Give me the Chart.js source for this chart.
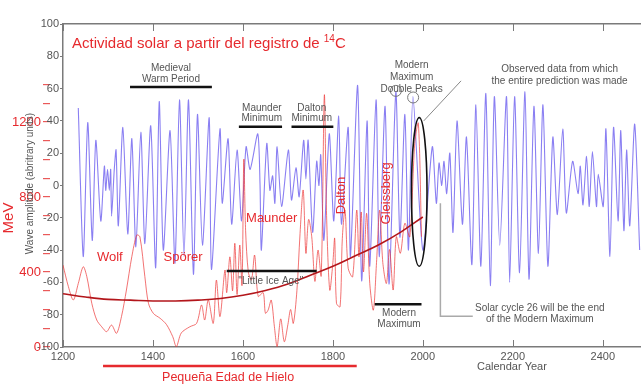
<!DOCTYPE html>
<html>
<head>
<meta charset="utf-8">
<script src="https://cdn.jsdelivr.net/npm/chart.js@4.4.1/dist/chart.umd.min.js"></script>
<style>
  html, body { margin: 0; padding: 0; background: #fff; }
  #wrap { width: 641px; height: 388px; }
</style>
</head>
<body>
<div id="wrap"><canvas id="chart" width="641" height="388"></canvas></div>
<script>
const FONT = '"Liberation Sans", Arial, Helvetica, sans-serif';
const AXIS = '#7a7a7a';
const GRAY = '#555';
const RED = '#e62a2e';

// calendar years on the x axis
const yearMin = 1200;
const yearMax = 2485;
const yearStep = 200;

// wave amplitude (arbitrary units), blue curve
const waveYears = [1234,1245,1255,1265,1273,1284,1292,1295,1299,1303,1306,1308,1314,1318,1323,1333,1344,1353,1362,1373,
  1382,1395,1406,1414,1423,1438,1449,1459,1469,1479,1490,1499,1510,1525,1530,1549,1554,1567,1575,1587,
  1597,1607,1616,1633,1638,1641,1653,1660,1666,1671,1676,1686,1701,1708,1718,1725,1735,1740,1745,1755,
  1764,1769,1773,1780,1792,1802,1813,1819,1834,1839,1855,1864,1876,1882,1896,1903,1916,1925,1940,1949,
  1960,1968,1978,2000,2021,2030,2036,2042,2047,2053,2060,2067,2076,2088,2097,2109,2118,2129,2140,2150,
  2159,2171,2186,2193,2204,2215,2227,2236,2247,2257,2267,2278,2289,2299,2311,2319,2333,2345,2350,2356,
  2364,2370,2377,2386,2390,2401,2407,2416,2424,2434,2440,2447,2453,2460,2471,2482];
const waveValues = [48,-44,39,-34,28,-22,12,-3,10,-3,10,-19,10,22,-25,36,-30,29,-38,33,
  -36,37,-51,52,-40,34,-48,53,-44,53,-55,44,-37,42,-52,35,-11,29,-24,22,
  -22,24,10,32,1,-40,26,-3,6,-11,24,-13,22,-9,11,-7,28,4,28,-29,
  15,0,19,-34,32,-22,43,-24,36,-44,62,-59,40,-50,53,-44,49,-61,58,-32,
  44,-40,55,-40,24,-11,14,0,15,-5,20,-29,40,-24,30,-49,50,-50,57,-62,
  55,-37,55,-60,55,-54,58,-58,49,-42,50,-50,30,-18,35,-17,15,-5,12,-12,
  18,-13,21,-13,7,-13,35,-44,36,-22,34,-28,22,-25,38,-40];

// solar activity from 14C (MeV), light red curve
const mevYears = [1200,1212,1223,1234,1245,1253,1264,1275,1286,1297,1308,1319,1330,1341,1353,1364,1371,1382,1390,1401,
  1416,1430,1444,1452,1463,1482,1497,1508,1515,1523,1534,1541,1549,1560,1564,1571,1577,1582,1587,1593,
  1598,1602,1606,1612,1619,1626,1634,1645,1650,1656,1663,1670,1676,1684,1692,1700,1706,1712,1720,1727,
  1734,1740,1746,1753,1760,1767,1774,1781,1786,1793,1800,1804,1808,1816,1821,1827,1834,1844,1853,1858,
  1863,1868,1875,1882,1890,1897,1904,1911,1919,1926,1934,1941,1950,1960,1971,1982,1990,1997];
const mevValues = [437,322,251,339,428,375,233,144,108,82,117,73,162,304,482,597,588,375,233,179,
  153,120,55,2,75,108,126,224,144,251,126,357,162,410,290,481,300,553,280,544,
  330,1000,620,400,357,490,270,290,180,197,250,108,2,150,28,120,200,126,300,606,
  837,500,680,588,350,517,380,1344,700,304,450,580,233,215,580,730,420,375,730,480,
  720,400,713,339,197,450,730,450,339,520,304,588,500,660,588,1086,1193,588];

// long-term trend, dark red curve (wave amplitude units)
const trendYears = [1200,1250,1300,1350,1400,1450,1500,1550,1600,1650,1700,1750,1800,1850,1900,1950,2000];
const trendValues = [-67,-69,-70.5,-71,-71.5,-71.5,-71,-70,-68,-65,-61,-55.5,-50,-43.5,-37,-29,-19.5];

// the red MeV axis: labelled values and last tick mark
const mevTickLabels = [0, 400, 800, 1200];
const mevTickTop = 1400;

// annotations placed in data coordinates: [text, year, value]
const grayNotes = [
  ['Medieval', 1440, 72.8], ['Warm Period', 1440, 66],
  ['Maunder', 1642, 48.1], ['Minimum', 1642, 41.4],
  ['Dalton', 1753, 48.1], ['Minimum', 1753, 41.4],
  ['"Little Ice Age"', 1662, -59.3],
  ['Modern', 1947, -79], ['Maximum', 1947, -85.8],
  ['Modern', 1975, 74.7], ['Maximum', 1975, 67.3], ['Double Peaks', 1975, 59.9],
  ['Observed data from which', 2304, 72.2], ['the entire prediction was made', 2304, 64.8],
  ['Solar cycle 26 will be the end', 2260, -75.9], ['of the Modern Maximum', 2260, -82.7]
];
const periodBars = [[1349, 1531, 61], [1591, 1687, 36.4], [1708, 1801, 36.4], [1564, 1764, -53], [1893, 1997, -73.5]];
const redNotes = [['Wolf', 1304, -44.4, 0], ['Spörer', 1467, -44.4, 0], ['Maunder', 1664, -20.4, 0],
  ['Dalton', 1820, -6.2, -90], ['Gleissberg', 1920, -4.9, -90]];

const overlay = {
  id: 'overlay',
  afterDatasetsDraw(chart) {
    const { ctx, chartArea: a, scales: { x, y, y2 } } = chart;
    const px = v => x.getPixelForValue(v);
    const py = v => y.getPixelForValue(v);
    const line = (x1, y1, x2, y2_) => { ctx.beginPath(); ctx.moveTo(x1, y1); ctx.lineTo(x2, y2_); ctx.stroke(); };
    const text = (s, tx, ty, font, color, rot) => {
      ctx.save();
      ctx.translate(tx, ty);
      if (rot) ctx.rotate(rot * Math.PI / 180);
      ctx.font = font; ctx.fillStyle = color;
      ctx.textAlign = 'center'; ctx.textBaseline = 'middle';
      ctx.fillText(s, 0, 0);
      ctx.restore();
    };
    ctx.save();

    // inward ticks on the bottom and top frame
    ctx.strokeStyle = AXIS; ctx.lineWidth = 1;
    x.ticks.forEach(t => {
      const xx = Math.round(px(t.value)) + 0.5;
      line(xx, a.bottom, xx, a.bottom - 7);
      line(xx, a.top, xx, a.top + 7);
    });

    // period bars
    ctx.strokeStyle = '#111'; ctx.lineWidth = 2.5;
    periodBars.forEach(b => line(px(b[0]), py(b[2]), px(b[1]), py(b[2])));

    // ellipse round the observed data, circles on double peaks
    ctx.strokeStyle = '#111'; ctx.lineWidth = 1.6;
    ctx.beginPath();
    ctx.ellipse(px(1992), py(-4), px(2009.3) - px(1992), py(-50) - py(-4), 0, 0, Math.PI * 2);
    ctx.stroke();
    ctx.strokeStyle = '#777'; ctx.lineWidth = 1;
    [[1940, 58.6], [1978.4, 54.5]].forEach(c => {
      ctx.beginPath(); ctx.arc(px(c[0]), py(c[1]), 5.5, 0, Math.PI * 2); ctx.stroke();
    });

    // leader lines
    ctx.strokeStyle = '#888'; ctx.lineWidth = 1;
    line(px(2002), py(40), px(2085), py(64.8));
    ctx.strokeStyle = '#aaa'; ctx.lineWidth = 1.5;
    ctx.beginPath(); ctx.moveTo(px(2039), py(-11)); ctx.lineTo(px(2039), py(-81)); ctx.lineTo(px(2111), py(-81)); ctx.stroke();

    grayNotes.forEach(n => text(n[0], px(n[1]), py(n[2]), '10px ' + FONT, GRAY, 0));
    redNotes.forEach(n => text(n[0], px(n[1]), py(n[2]), '13px ' + FONT, RED, n[3]));

    // title with superscript
    ctx.fillStyle = RED; ctx.textAlign = 'left'; ctx.textBaseline = 'middle';
    const t0 = 'Actividad solar a partir del registro de ';
    let tx = px(1220); const ty = py(87.7);
    ctx.font = '15px ' + FONT; ctx.fillText(t0, tx, ty); tx += ctx.measureText(t0).width;
    ctx.font = '10px ' + FONT; ctx.fillText('14', tx, ty - 5); tx += ctx.measureText('14').width;
    ctx.font = '15px ' + FONT; ctx.fillText('C', tx, ty);

    // axis titles
    text('Wave amplitude (abritrary units)', 30, py(1.2), '10px ' + FONT, GRAY, -90);
    text('MeV', 9, y2.getPixelForValue(688), '15px ' + FONT, RED, -90);
    text('Calendar Year', px(2198), py(-112.3), '11px ' + FONT, GRAY, 0);

    // Little Ice Age span under the axis
    ctx.strokeStyle = RED; ctx.lineWidth = 2.5;
    line(px(1289), py(-111.7), px(1853), py(-111.7));
    text('Pequeña Edad de Hielo', px(1567), py(-119), '12.5px ' + FONT, RED, 0);

    ctx.restore();
  }
};

const pairs = (xs, ys) => xs.map((v, i) => ({ x: v, y: ys[i] }));

new Chart(document.getElementById('chart'), {
  type: 'line',
  data: {
    datasets: [
      {
        label: 'trend', data: pairs(trendYears, trendValues), yAxisID: 'y',
        borderColor: '#b3161b', borderWidth: 1.6, pointRadius: 0, tension: 0.4, order: 1
      },
      {
        label: 'MeV', data: pairs(mevYears, mevValues), yAxisID: 'y2',
        borderColor: 'rgba(236,55,55,0.7)', borderWidth: 1, pointRadius: 0, tension: 0.3, order: 2
      },
      {
        label: 'wave', data: pairs(waveYears, waveValues), yAxisID: 'y',
        borderColor: 'rgba(118,104,240,0.85)', borderWidth: 1.1, pointRadius: 0, tension: 0.25, order: 3
      }
    ]
  },
  options: {
    responsive: false,
    animation: false,
    devicePixelRatio: 1,
    layout: { padding: 0 },
    plugins: { legend: { display: false }, tooltip: { enabled: false } },
    scales: {
      x: {
        type: 'linear', position: 'bottom', min: yearMin, max: yearMax,
        grid: { display: false, drawTicks: false },
        border: { display: true, color: AXIS, width: 1.5 },
        ticks: { stepSize: yearStep, includeBounds: false, autoSkip: false, maxRotation: 0, padding: 3,
          color: GRAY, font: { family: FONT, size: 11 }, callback: v => String(v) },
        afterFit: s => { s.height = 41; }
      },
      x2: {
        type: 'linear', position: 'top', min: yearMin, max: yearMax,
        grid: { display: false, drawTicks: false },
        border: { display: true, color: AXIS, width: 1.5 },
        ticks: { display: false },
        afterFit: s => { s.height = 24; }
      },
      y: {
        position: 'left', min: -100, max: 100, weight: 0,
        grid: { drawOnChartArea: false, tickLength: 3, color: AXIS },
        border: { display: true, color: AXIS, width: 1.5 },
        ticks: { stepSize: 20, padding: 1, color: GRAY, autoSkip: false, font: { family: FONT, size: 11 } },
        afterFit: s => {
          s.width = 13;
          // the labels spill over the red axis, so do not clip them to this narrow box
          s._computeLabelArea = () => undefined;
        }
      },
      y2: {
        position: 'left', min: 0, max: 1723, weight: 1,
        grid: { drawOnChartArea: false, tickLength: 7, color: 'rgba(230,60,60,0.85)', lineWidth: 1.2 },
        border: { display: false },
        ticks: { stepSize: 100, includeBounds: false, autoSkip: false, padding: 2, color: RED,
          font: { family: FONT, size: 13 },
          callback: v => mevTickLabels.includes(v) ? String(v) : '' },
        afterBuildTicks: s => { s.ticks = s.ticks.filter(t => t.value <= mevTickTop); },
        afterFit: s => { s.width = 50; }
      }
    }
  },
  plugins: [overlay]
});
</script>
</body>
</html>
